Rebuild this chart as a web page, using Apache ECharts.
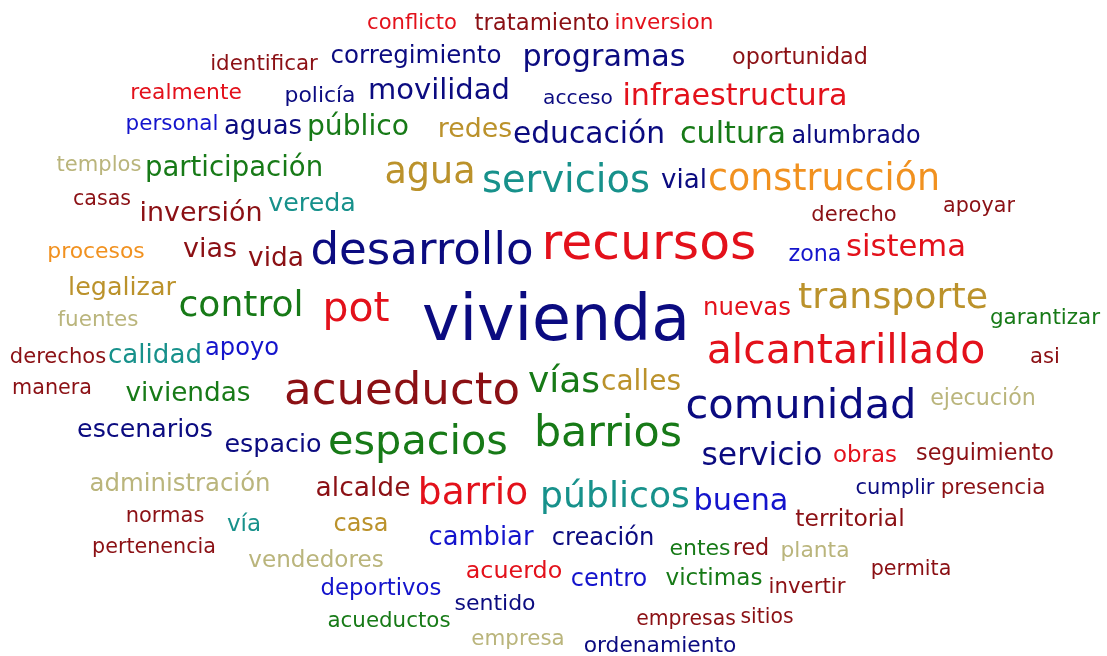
<!DOCTYPE html>
<html>
<head>
<meta charset="utf-8">
<title>nube de palabras</title>
<style>
  html, body { margin: 0; padding: 0; background: #fff; }
  #container { width: 1107px; height: 656px; }
</style>
</head>
<body>
<div id="container"></div>
<script src="https://cdn.jsdelivr.net/npm/echarts@6/dist/echarts.min.js"></script>
<script>
// palabras, posicion (centro x, linea base y), peso (tamaño) y grupo de color
var words = ['conflicto','tratamiento','inversion','identificar','corregimiento','programas','oportunidad',
  'realmente','policía','movilidad','acceso','infraestructura','personal','aguas','público','redes',
  'educación','cultura','alumbrado','templos','participación','agua','servicios','vial','construcción',
  'casas','inversión','vereda','derecho','apoyar','procesos','vias','vida','desarrollo','recursos','zona',
  'sistema','legalizar','control','pot','vivienda','nuevas','transporte','fuentes','garantizar',
  'alcantarillado','derechos','calidad','apoyo','asi','manera','viviendas','acueducto','vías','calles',
  'comunidad','ejecución','escenarios','espacio','espacios','barrios','servicio','obras','seguimiento',
  'administración','alcalde','barrio','públicos','buena','cumplir','presencia','normas','vía','casa',
  'territorial','pertenencia','cambiar','creación','entes','red','planta','vendedores','acuerdo','centro',
  'victimas','invertir','permita','deportivos','sentido','acueductos','empresas','sitios','empresa','ordenamiento'];

var posX = [412,542,664,264,416,604,800,
  186,320,439,578,735,172,263,358,475,
  589,733,856,99,234,430,566,684,824,
  102,201,312,854,979,96,210,276,422,649,815,
  906,122,241,356,556,747,893,98,1045,
  846,58,155,242,1045,52,188,402,564,641,
  801,983,145,273,418,608,762,865,985,
  180,363,473,615,741,895,993,165,244,361,
  850,154,481,603,700,751,815,316,514,609,
  714,807,911,381,495,389,686,767,518,660];

var posY = [29,30,29,70,64,67,64,
  99,102,100,104,106,130,135,136,138,
  144,144,143,171,177,184,193,189,191,
  205,222,212,221,212,258,258,267,265,260,261,
  257,296,317,322,341,316,309,326,324,
  364,363,364,355,363,394,402,405,393,391,
  419,405,438,453,455,447,466,462,460,
  492,497,505,508,511,494,494,522,531,531,
  526,553,546,545,555,555,557,567,578,586,
  585,593,575,595,610,627,625,623,645,652];

var weights = [21.1,22.8,21.6,21.4,24.5,30.2,22.3,
  21.8,21.9,29.0,20.2,30.2,21.5,25.9,28.2,26.8,
  29.7,30.2,23.9,21.1,27.5,36.5,38.4,26.1,36.4,
  20.6,26.9,25.3,21.1,20.7,21.9,27.0,26.4,45.1,50.5,22.2,
  30.7,25.4,36.1,40.9,63.3,24.4,36.3,21.5,21.5,
  41.0,21.1,26.1,24.2,21.2,20.7,26.3,45.1,36.0,28.0,
  41.5,22.2,25.3,25.4,41.4,42.8,31.4,22.9,22.3,
  24.4,26.5,37.5,36.2,30.3,21.0,21.6,21.0,23.0,24.0,
  23.4,20.7,25.8,24.2,22.0,22.3,21.8,23.1,23.8,24.0,
  23.1,21.3,20.7,22.8,22.0,21.4,20.4,20.4,21.4,21.8];

// 0 rojo, 1 rojo oscuro, 2 azul marino, 3 azul, 4 verde, 5 turquesa, 6 dorado, 7 naranja, 8 caqui
var groups = [0,1,0,1,2,2,1,
  0,2,2,2,0,3,2,4,6,
  2,4,2,8,4,6,5,2,7,
  1,1,5,1,1,7,1,1,2,0,3,
  0,6,4,0,2,0,6,8,4,
  0,1,5,3,1,1,4,1,4,6,
  2,8,2,2,4,4,2,0,1,
  8,1,0,5,3,2,1,1,5,6,
  1,1,3,2,4,1,8,8,0,3,
  4,1,1,3,2,4,1,1,8,2];

var palette = ['#e3111b','#8b1014','#0b0b80','#1414cc','#177a17','#17918b','#bb922b','#f1911f','#bab57c'];

var myChart = echarts.init(document.getElementById('container'));

var data = words.map(function (w, i) {
    return {
        name: w,
        value: [posX[i], posY[i], weights[i]],
        label: {
            fontSize: weights[i],
            color: palette[groups[i]],
            offset: [0, -0.28 * weights[i]]
        }
    };
});

var option = {
    backgroundColor: '#ffffff',
    animation: false,
    grid: { left: 0, right: 0, top: 0, bottom: 0 },
    xAxis: { type: 'value', min: 0, max: 1107, show: false },
    yAxis: { type: 'value', min: 0, max: 656, inverse: true, show: false },
    series: [{
        type: 'scatter',
        symbolSize: 1,
        itemStyle: { color: 'rgba(0,0,0,0)', opacity: 1 },
        data: data,
        label: {
            show: true,
            position: 'inside',
            formatter: '{b}',
            fontFamily: 'DejaVu Sans',
            align: 'center',
            verticalAlign: 'middle',
            opacity: 1
        },
        emphasis: { disabled: true }
    }]
};
myChart.setOption(option);
</script>
</body>
</html>
